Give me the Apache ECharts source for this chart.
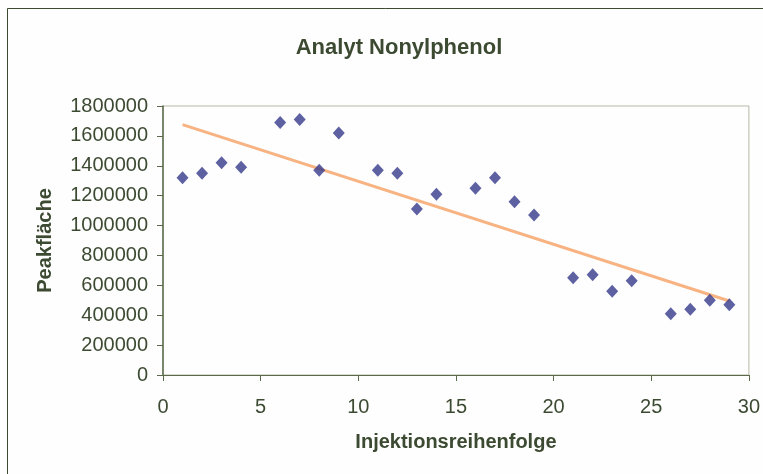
<!DOCTYPE html>
<html>
<head>
<meta charset="utf-8">
<script src="https://cdn.jsdelivr.net/npm/echarts@6/dist/echarts.min.js"></script>
<style>
  html, body { margin: 0; padding: 0; background: #fff; }
  #chart { width: 763px; height: 474px; }
</style>
</head>
<body>
<div id="chart"></div>
<script>
const TEXT = '#3c4a32';

// Injektionsreihenfolge / Peakfläche
const injections = [1, 2, 3, 4, 6, 7, 8, 9, 11, 12, 13, 14, 16, 17, 18, 19, 21, 22, 23, 24, 26, 27, 28, 29];
const peakAreas = [1320000, 1350000, 1420000, 1390000, 1690000, 1710000, 1370000, 1620000,
  1370000, 1350000, 1110000, 1210000, 1250000, 1320000, 1160000, 1070000,
  650000, 670000, 560000, 630000, 410000, 440000, 500000, 470000];

const trendX = [1, 29];
const trendY = [1675000, 495000];

const chart = echarts.init(document.getElementById('chart'));

chart.setOption({
  backgroundColor: '#fefefe',
  animation: false,
  textStyle: { fontFamily: 'Liberation Sans, Arial, sans-serif' },
  title: {
    text: 'Analyt Nonylphenol',
    left: 394,
    textAlign: 'center',
    top: 32,
    textStyle: { color: TEXT, fontSize: 22, fontWeight: 'bold' },
  },
  graphic: [{
    type: 'rect',
    shape: { x: 7.5, y: 8.5, width: 800, height: 500 },
    style: { fill: 'none', stroke: TEXT, lineWidth: 1 },
    silent: true,
  }],
  grid: {
    left: 163, right: 7, top: 106, bottom: 99,
    show: true, borderColor: '#b8b8a8', borderWidth: 1,
  },
  xAxis: {
    type: 'value',
    min: 0, max: 30, interval: 5,
    name: 'Injektionsreihenfolge',
    nameLocation: 'middle',
    nameGap: 57,
    nameTextStyle: { color: TEXT, fontSize: 20, fontWeight: 'bold' },
    axisLine: { lineStyle: { color: '#5a6a4a', width: 1 } },
    axisTick: { show: true, length: 6, lineStyle: { color: '#5a6a4a' } },
    axisLabel: { color: TEXT, fontSize: 20, margin: 22 },
    splitLine: { show: false },
  },
  yAxis: {
    type: 'value',
    min: 0, max: 1800000, interval: 200000,
    name: 'Peakfläche',
    nameLocation: 'middle',
    nameGap: 108,
    nameTextStyle: { color: TEXT, fontSize: 20, fontWeight: 'bold' },
    axisLine: { show: true, lineStyle: { color: '#5a6a4a', width: 1.5 } },
    axisTick: { show: true, length: 6, lineStyle: { color: '#5a6a4a' } },
    axisLabel: { color: TEXT, fontSize: 20, margin: 15, formatter: v => String(v) },
    splitLine: { show: false },
  },
  series: [
    {
      name: 'Trend',
      type: 'line',
      data: trendX.map((x, i) => [x, trendY[i]]),
      showSymbol: false,
      lineStyle: { color: '#f8b383', width: 3 },
      z: 1,
    },
    {
      name: 'Peakfläche',
      type: 'scatter',
      data: injections.map((x, i) => [x, peakAreas[i]]),
      symbol: 'diamond',
      symbolSize: [12, 13],
      itemStyle: { color: '#353889' },
      z: 2,
    },
  ],
});
</script>
</body>
</html>
